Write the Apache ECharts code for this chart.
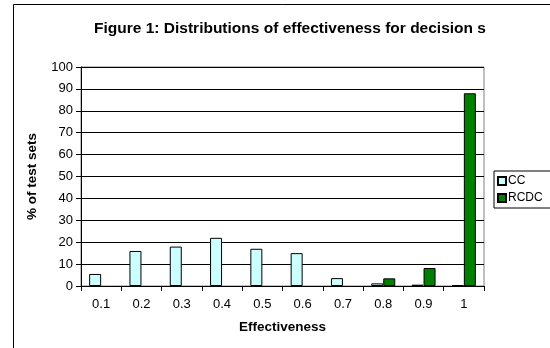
<!DOCTYPE html>
<html>
<head>
<meta charset="utf-8">
<script src="https://cdn.jsdelivr.net/npm/echarts@6/dist/echarts.min.js"></script>
<style>html,body{margin:0;padding:0;background:#fff;}#c{width:550px;height:348px;}</style>
</head>
<body>
<div id="c"></div>
<script>
var categories = ['0.1','0.2','0.3','0.4','0.5','0.6','0.7','0.8','0.9','1'];
var ccValues = [5.5, 16, 18, 22, 17, 15, 3.6, 1.2, 0.6, 0.3];
var rcdcValues = [0, 0, 0, 0, 0, 0, 0, 3.5, 8.2, 88];
var yTicks = {min: 0, max: 100, interval: 10};

function noZero(arr) { return arr.map(function (v) { return v === 0 ? '-' : v; }); }

var chart = echarts.init(document.getElementById('c'), null, {renderer: 'canvas'});
var font = 'Liberation Sans, Arial, sans-serif';
chart.setOption({
  animation: false,
  backgroundColor: '#fff',
  title: {
    text: 'Figure 1: Distributions of effectiveness for decision s',
    left: 285, top: 16, textAlign: 'center',
    textStyle: {fontFamily: font, fontSize: 15.5, fontWeight: 'bold', color: '#000'}
  },
  graphic: [{
    type: 'rect', shape: {x: 13.5, y: 4.5, width: 600, height: 400},
    style: {fill: null, stroke: '#000', lineWidth: 1}, silent: true, z: -1
  }],
  legend: {
    orient: 'vertical', left: 494, top: 171,
    itemWidth: 8, itemHeight: 8, itemGap: 5,
    padding: [4, 20, 4, 3],
    borderColor: '#000', borderWidth: 1,
    textStyle: {fontFamily: font, fontSize: 12, color: '#000', padding: [0,0,0,-3]},
    data: [{name: 'CC', icon: 'rect'}, {name: 'RCDC', icon: 'rect'}]
  },
  grid: {left: 81, right: 66, top: 67, bottom: 62, show: true, borderColor: '#808080', borderWidth: 1, backgroundColor: '#fff'},
  xAxis: {
    type: 'category', data: categories,
    name: 'Effectiveness', nameLocation: 'middle', nameGap: 34,
    nameTextStyle: {fontFamily: font, fontSize: 13.5, fontWeight: 'bold', color: '#000'},
    axisLine: {lineStyle: {color: '#000', width: 1}},
    axisTick: {show: true, length: 5, alignWithLabel: false, lineStyle: {color: '#000'}},
    axisLabel: {fontFamily: font, fontSize: 13, color: '#000', margin: 12}
  },
  yAxis: {
    type: 'value', min: yTicks.min, max: yTicks.max, interval: yTicks.interval,
    name: '% of test sets', nameLocation: 'middle', nameGap: 42, nameRotate: 90,
    nameTextStyle: {fontFamily: font, fontSize: 13.5, fontWeight: 'bold', color: '#000'},
    axisLine: {show: true, lineStyle: {color: '#000', width: 1}},
    axisTick: {show: true, length: 5, lineStyle: {color: '#000'}},
    axisLabel: {fontFamily: font, fontSize: 13, color: '#000', margin: 8},
    splitLine: {show: true, lineStyle: {color: '#000', width: 1}}
  },
  series: [
    {name: 'CC', type: 'bar', data: noZero(ccValues), barWidth: 12, barGap: '0%',
     itemStyle: {color: '#CCFFFF', borderColor: '#000', borderWidth: 1}},
    {name: 'RCDC', type: 'bar', data: noZero(rcdcValues), barWidth: 12, barGap: '0%',
     itemStyle: {color: '#008000', borderColor: '#000', borderWidth: 1}}
  ]
});
</script>
</body>
</html>
